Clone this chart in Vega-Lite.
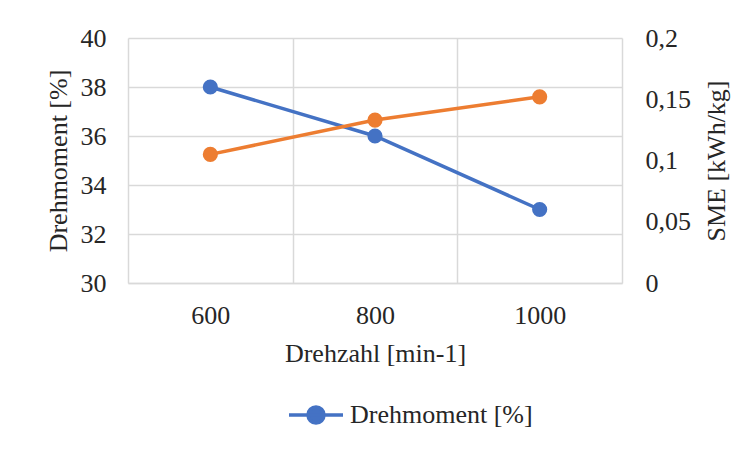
{
  "$schema": "https://vega.github.io/schema/vega-lite/v6.json",
  "width": 494,
  "height": 245,
  "autosize": {"type": "none"},
  "padding": {"left": 128, "top": 38, "right": 132, "bottom": 175},
  "background": "white",
  "config": {
    "font": "Liberation Serif",
    "view": {"stroke": null},
    "axis": {"labelFont": "Liberation Serif", "titleFont": "Liberation Serif", "labelFontSize": 26, "titleFontSize": 26, "labelColor": "#262626", "titleColor": "#262626", "titleFontWeight": "normal", "ticks": false, "domainColor": "#d9d9d9", "domainWidth": 1.5, "gridColor": "#d9d9d9", "gridWidth": 1.5}
  },
  "data": {"values": [
    {"rpm": 600, "Drehmoment": 38, "SME": 0.105},
    {"rpm": 800, "Drehmoment": 36, "SME": 0.133},
    {"rpm": 1000, "Drehmoment": 33, "SME": 0.152}
  ]},
  "layer": [
    {
      "mark": {"type": "line", "strokeWidth": 3.5, "point": {"filled": true, "size": 230}},
      "encoding": {
        "x": {"field": "rpm", "type": "quantitative", "scale": {"domain": [500, 1100], "nice": false, "zero": false},
              "axis": {"values": [600, 800, 1000], "format": "d", "grid": false, "title": "Drehzahl [min-1]", "labelPadding": 19, "titleY": 78, "titleBaseline": "alphabetic"}},
        "y": {"field": "Drehmoment", "type": "quantitative", "scale": {"domain": [30, 40], "nice": false, "zero": false},
              "axis": {"values": [30, 32, 34, 36, 38, 40], "grid": true, "title": "Drehmoment [%]", "orient": "left", "labelPadding": 22, "titleX": -70, "titleY": 122.5, "titleAngle": -90, "titleBaseline": "middle", "titleAlign": "center"}},
        "color": {"datum": "Drehmoment [%]", "type": "nominal", "scale": {"range": ["#4472C4"]},
                  "legend": {"title": null, "orient": "none", "legendX": 175, "legendY": 364, "padding": 0,
                             "symbolType": "M-3.375,0H3.375M-1,0A1,1 0 1,0 1,0A1,1 0 1,0 -1,0Z", "symbolSize": 256,
                             "symbolStrokeWidth": 3.5, "symbolFillColor": "#4472C4", "symbolStrokeColor": "#4472C4",
                             "labelFont": "Liberation Serif", "labelFontSize": 26, "labelColor": "#262626", "labelOffset": 21, "labelLimit": 0}}
      }
    },
    {
      "mark": {"type": "line", "strokeWidth": 3.5, "color": "#ED7D31", "point": {"filled": true, "size": 230, "color": "#ED7D31"}},
      "encoding": {
        "x": {"field": "rpm", "type": "quantitative", "scale": {"domain": [500, 1100], "nice": false, "zero": false},
              "axis": {"values": [700, 900], "grid": true, "labels": false, "domain": false, "title": null}},
        "y": {"field": "SME", "type": "quantitative", "scale": {"domain": [0, 0.2], "nice": false},
              "axis": {"values": [0, 0.05, 0.1, 0.15, 0.2], "grid": false, "orient": "right", "title": "SME [kWh/kg]",
                       "labelExpr": "replace(toString(datum.value), '.', ',')", "labelPadding": 23,
                       "titleX": 94, "titleY": 122.5, "titleAngle": -90, "titleBaseline": "middle", "titleAlign": "center"}}
      }
    }
  ],
  "resolve": {"scale": {"y": "independent"}, "axis": {"x": "independent", "y": "independent"}}
}
